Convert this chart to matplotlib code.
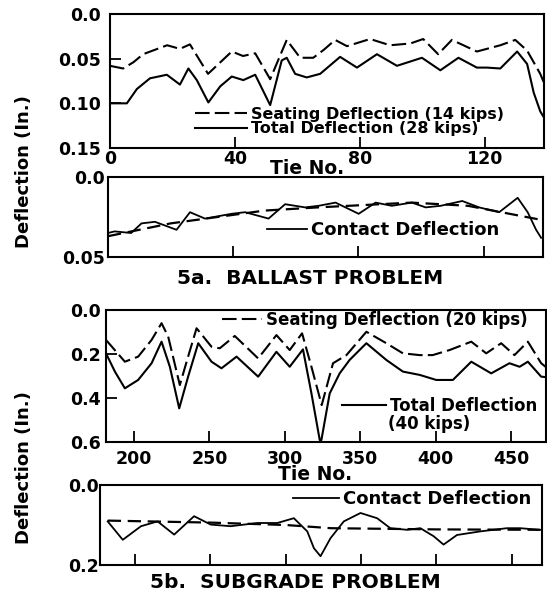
import matplotlib
matplotlib.use("Agg")
import matplotlib.pyplot as plt

plt.rcParams['font.family'] = ['DejaVu Sans']
plt.rcParams['font.weight'] = 'bold'

# --- 5a. ballast problem (tie no. 0 - 139) ---
tie_seat_a = [0, 4.2, 7.5, 10.6, 18.3, 22.4, 25.6, 31.4, 39.0, 42.6, 46.5, 51.3, 56.6, 60.9,
              65.1, 68.5, 72.1, 75.9, 83.3, 89.7, 96.2, 100.3, 105.1, 109.5, 117.5, 125.0,
              129.8, 133.6, 137.8, 139]
seat_a = [0.058, 0.061, 0.054, 0.045, 0.035, 0.039, 0.034, 0.067, 0.042, 0.047, 0.044, 0.073,
          0.029, 0.049, 0.049, 0.040, 0.029, 0.036, 0.028, 0.035, 0.033, 0.028, 0.045, 0.029,
          0.042, 0.035, 0.029, 0.041, 0.067, 0.077]

tie_total_a = [0, 5.4, 8.6, 12.8, 18.2, 22.4, 25.1, 27.8, 31.5, 35.3, 39.0, 42.7, 46.5, 51.3,
               55.0, 56.6, 59.3, 63.0, 67.3, 73.7, 79.1, 85.5, 91.9, 99.9, 105.8, 111.6,
               117.5, 120.7, 125.0, 130.4, 133.6, 135.7, 137.8, 139]
total_a = [0.100, 0.100, 0.084, 0.072, 0.068, 0.079, 0.061, 0.074, 0.099, 0.081, 0.070, 0.074,
           0.068, 0.102, 0.052, 0.049, 0.067, 0.071, 0.067, 0.048, 0.060, 0.045, 0.058, 0.049,
           0.063, 0.049, 0.060, 0.060, 0.061, 0.042, 0.056, 0.088, 0.109, 0.116]

tie_contact_a = [0, 2.1, 7.4, 10.7, 15.0, 21.9, 26.2, 31.0, 39.5, 43.8, 51.3, 56.6, 63.0, 67.3,
                 72.7, 80.1, 85.5, 90.7, 97.1, 101.5, 106.3, 113.2, 118.6, 125.0, 130.9,
                 134.1, 136.8, 138.4]
contact_a = [0.035, 0.034, 0.035, 0.029, 0.028, 0.033, 0.022, 0.026, 0.023, 0.022, 0.026, 0.017,
             0.019, 0.018, 0.016, 0.023, 0.016, 0.018, 0.016, 0.019, 0.018, 0.015, 0.019, 0.022,
             0.013, 0.022, 0.033, 0.038]

tie_trend_a = [0, 20, 50, 67, 97, 115, 139]
trend_a = [0.037, 0.029, 0.021, 0.019, 0.016, 0.018, 0.027]

# --- 5b. subgrade problem (tie no. ~180 - 473) ---
tie_seat_b = [181.5, 194.0, 202.8, 211.7, 218.3, 222.7, 230.4, 235.9, 241.5, 251.4, 256.9,
              266.8, 282.3, 294.4, 303.2, 311.4, 317.6, 324.4, 331.9, 340.8, 354.0, 367.2,
              378.2, 389.3, 397.9, 409.1, 423.5, 433.4, 443.3, 452.1, 461.0, 469.8, 472.7]
seat_b = [0.136, 0.235, 0.212, 0.136, 0.060, 0.121, 0.341, 0.212, 0.083, 0.167, 0.174, 0.118,
          0.220, 0.114, 0.182, 0.106, 0.258, 0.432, 0.242, 0.205, 0.099, 0.151, 0.197, 0.205,
          0.205, 0.182, 0.144, 0.197, 0.151, 0.205, 0.144, 0.242, 0.258]

tie_total_b = [181.5, 187.4, 194.0, 202.8, 211.7, 218.3, 223.8, 230.0, 235.9, 242.6, 251.4,
               258.0, 268.0, 282.3, 294.4, 303.2, 312.0, 317.6, 323.1, 324.2, 329.7, 336.3,
               342.9, 354.0, 367.2, 378.2, 389.3, 400.3, 411.3, 423.5, 436.7, 448.8, 455.5,
               461.0, 469.8, 472.7]
total_b = [0.197, 0.280, 0.356, 0.318, 0.242, 0.144, 0.258, 0.447, 0.303, 0.151, 0.235, 0.265,
           0.212, 0.303, 0.190, 0.258, 0.179, 0.379, 0.591, 0.591, 0.379, 0.288, 0.227, 0.151,
           0.227, 0.280, 0.295, 0.318, 0.318, 0.235, 0.288, 0.242, 0.258, 0.235, 0.303, 0.305]

tie_contact_b = [181.9, 191.9, 204.0, 215.0, 226.0, 239.2, 250.3, 263.5, 281.2, 294.4, 305.4,
                 314.3, 318.7, 323.1, 329.7, 338.5, 349.6, 360.6, 369.4, 380.5, 389.3, 398.1,
                 404.7, 413.6, 429.0, 446.7, 455.5, 468.7]
contact_b = [0.091, 0.137, 0.103, 0.091, 0.124, 0.078, 0.099, 0.103, 0.095, 0.095, 0.083, 0.116,
             0.158, 0.178, 0.133, 0.091, 0.070, 0.083, 0.108, 0.112, 0.108, 0.128, 0.149, 0.125,
             0.116, 0.108, 0.108, 0.112]

tie_trend_b = [181.9, 250, 300, 330, 400, 468.7]
trend_b = [0.089, 0.094, 0.100, 0.108, 0.111, 0.112]

W, H = 547, 593


def fx(x):
    return x / W


def fy(y):
    return 1 - y / H


fig = plt.figure(figsize=(W / 100, H / 100), dpi=100)


def style(ax, ypad):
    for s in ax.spines.values():
        s.set_linewidth(1.5)
    ax.tick_params(direction='in', length=8, width=1.3, labelsize=12.5)
    ax.tick_params(axis='y', pad=ypad)


def leg(ax, handles, labels, x, y, hl, size=12, spacing=-0.22):
    fs = size * 100 / 72
    lg = ax.legend(handles, labels, loc='center left', bbox_to_anchor=(fx(x), fy(y)),
                   bbox_transform=fig.transFigure, frameon=False, borderpad=0,
                   borderaxespad=0, handlelength=hl / fs, handletextpad=4 / fs,
                   labelspacing=spacing, prop={'size': size, 'weight': 'bold'})
    return lg


dash = dict(color='black', lw=1.5, dashes=(7, 2.5))
solid = dict(color='black', lw=1.5)

# panel 1
ax1 = fig.add_axes([fx(110), fy(148), fx(544) - fx(110), (148 - 14) / H])
s1, = ax1.plot(tie_seat_a, seat_a, **dash)
t1, = ax1.plot(tie_total_a, total_a, **solid)
ax1.set_xlim(0, 139)
ax1.set_ylim(0.15, 0)
ax1.set_xticks([0, 40, 80, 120])
ax1.set_yticks([0.0, 0.05, 0.10, 0.15], ['0.0', '0.05', '0.10', '0.15'])
style(ax1, 6.5)
ax1.tick_params(axis='x', pad=1.5)
leg(ax1, [s1, t1], ['Seating Deflection (14 kips)', 'Total Deflection (28 kips)'],
    195, 121.5, 52, 11.5, -0.05)

# panel 2
ax2 = fig.add_axes([fx(108), fy(257), fx(543) - fx(108), 80 / H])
c2, = ax2.plot(tie_contact_a, contact_a, color='black', lw=1.3)
ax2.plot(tie_trend_a, trend_a, color='black', lw=1.6, dashes=(6, 3))
ax2.set_xlim(0, 139)
ax2.set_ylim(0.05, 0)
ax2.set_xticks([40, 80, 120], [])
ax2.set_yticks([0.0, 0.05], ['0.0', '0.05'])
style(ax2, 2)
leg(ax2, [c2], ['Contact Deflection'], 267, 230, 40, 13)

# panel 3
ax3 = fig.add_axes([fx(106), fy(442), fx(546) - fx(106), 132 / H])
s3, = ax3.plot(tie_seat_b, seat_b, **dash)
t3, = ax3.plot(tie_total_b, total_b, **solid)
ax3.set_xlim(181.5, 473)
ax3.set_ylim(0.6, 0)
ax3.set_xticks([200, 250, 300, 350, 400, 450])
ax3.set_yticks([0.0, 0.2, 0.4, 0.6], ['0.0', '0.2', '0.4', '0.6'])
style(ax3, 3.5)
ax3.tick_params(axis='x', pad=5.5)
lg3 = leg(ax3, [s3], ['Seating Deflection (20 kips)'], 222, 320, 40)
ax3.add_artist(lg3)
leg(ax3, [t3], ['Total Deflection'], 342, 406, 44)
fig.text(fx(388), fy(424), '(40 kips)', fontsize=12, fontweight='bold', va='center')

# panel 4
ax4 = fig.add_axes([fx(100), fy(565), fx(542) - fx(100), 80 / H])
c4, = ax4.plot(tie_contact_b, contact_b, color='black', lw=1.3)
ax4.plot(tie_trend_b, trend_b, color='black', lw=1.6, dashes=(6, 3))
ax4.set_xlim(176.8, 470)
ax4.set_ylim(0.2, 0)
ax4.set_xticks([200, 250, 300, 350, 400, 450], [])
ax4.set_yticks([0.0, 0.2], ['0.0', '0.2'])
style(ax4, 0.5)
leg(ax4, [c4], ['Contact Deflection'], 293, 499, 46, 13)

# labels and captions
fig.text(fx(307), fy(168), 'Tie No.', fontsize=13.5, fontweight='bold', ha='center', va='center')
fig.text(fx(315), fy(475), 'Tie No.', fontsize=13.5, fontweight='bold', ha='center', va='center')
fig.text(fx(24), fy(172), 'Deflection (In.)', fontsize=13, fontweight='bold', rotation=90,
         ha='center', va='center')
fig.text(fx(24), fy(468), 'Deflection (In.)', fontsize=13, fontweight='bold', rotation=90,
         ha='center', va='center')
fig.text(fx(310), fy(278), '5a.  BALLAST PROBLEM', fontsize=14.5, fontweight='bold',
         ha='center', va='center')
fig.text(fx(295), fy(582), '5b.  SUBGRADE PROBLEM', fontsize=14.5, fontweight='bold',
         ha='center', va='center')

fig.savefig('out.png', dpi=100)
